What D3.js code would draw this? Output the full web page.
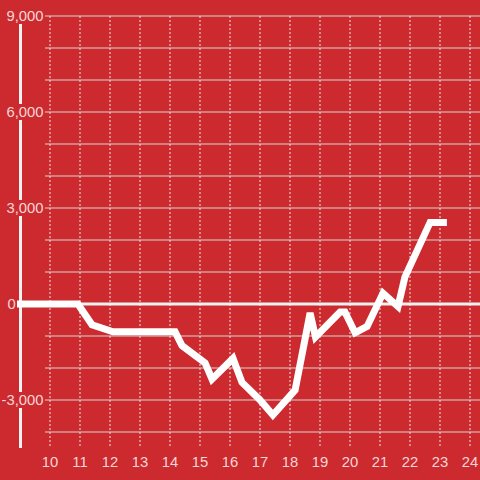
<!DOCTYPE html>
<html>
<head>
<meta charset="utf-8">
<script src="https://cdn.jsdelivr.net/npm/d3@7"></script>
<style>
  body { margin: 0; background: #cc2a2f; }
  svg { display: block; }
  text { font-family: "Liberation Sans", Arial, sans-serif; }
</style>
</head>
<body>
<div id="chart"></div>
<script>
var width = 480,
    height = 480,
    bg = "#cc2a2f";

// series
var xs = [8.9, 10.93, 11.4, 12.1, 14.17, 14.4, 15.17, 15.4, 16.1, 16.4, 17.0, 17.43,
          18.17, 18.67, 18.85, 19.67, 19.83, 20.17, 20.57, 21.1, 21.6, 21.83, 22.67, 23.23];
var ys = [0, 0, -650, -870, -870, -1300, -1840, -2350, -1700, -2450, -3000, -3470,
          -2690, -280, -1030, -250, -250, -900, -700, 340, -80, 840, 2550, 2550];

var xTicks = [10, 11, 12, 13, 14, 15, 16, 17, 18, 19, 20, 21, 22, 23, 24];
var yGrid = d3.range(-4000, 9001, 1000);
var yLabels = [-3000, 0, 3000, 6000, 9000];

var x = d3.scaleLinear().domain([9, 24]).range([20, 470]);
var y = d3.scaleLinear().domain([-4500, 9000]).range([448, 16]);

var svg = d3.select("#chart")
    .append("svg")
    .attr("width", width)
    .attr("height", height);

svg.append("rect")
    .attr("width", width)
    .attr("height", height)
    .attr("fill", bg);

// horizontal grid
svg.selectAll("line.hgrid")
    .data(yGrid)
    .enter()
    .append("line")
    .attr("class", "hgrid")
    .attr("x1", 45)
    .attr("x2", width)
    .attr("y1", function (d) { return y(d); })
    .attr("y2", function (d) { return y(d); })
    .attr("stroke", "#d6d6d6")
    .attr("stroke-width", 1.2);

// vertical dashed grid
svg.selectAll("line.vgrid")
    .data(xTicks)
    .enter()
    .append("line")
    .attr("class", "vgrid")
    .attr("x1", function (d) { return x(d); })
    .attr("x2", function (d) { return x(d); })
    .attr("y1", y(9000))
    .attr("y2", y(-4500))
    .attr("stroke", "#e6e6e6")
    .attr("stroke-width", 1)
    .attr("stroke-dasharray", "2,2");

// zero line
svg.append("line")
    .attr("x1", 45)
    .attr("x2", width)
    .attr("y1", y(0))
    .attr("y2", y(0))
    .attr("stroke", "#f2f2f2")
    .attr("stroke-width", 3);

// y axis line
svg.append("line")
    .attr("x1", 20.5)
    .attr("x2", 20.5)
    .attr("y1", y(9000))
    .attr("y2", y(-4500))
    .attr("stroke", "#f2f2f2")
    .attr("stroke-width", 3);

// y labels with a background patch over the axis line
var yl = svg.selectAll("g.ylab")
    .data(yLabels)
    .enter()
    .append("g")
    .attr("class", "ylab")
    .attr("transform", function (d) { return "translate(0," + y(d) + ")"; });

yl.filter(function (d) { return d !== 0; })
    .append("rect")
    .attr("x", 0)
    .attr("y", -8)
    .attr("width", 44)
    .attr("height", 16)
    .attr("fill", bg);

yl.append("text")
    .attr("x", function (d) { return d === 0 ? 7.5 : 43.5; })
    .attr("dy", "0.36em")
    .attr("text-anchor", function (d) { return d === 0 ? "start" : "end"; })
    .attr("font-size", 14.8)
    .attr("fill", "#f5d6d6")
    .text(function (d) { return d3.format(",")(d).replace("−", "-"); });

// x labels
svg.selectAll("text.xlab")
    .data(xTicks)
    .enter()
    .append("text")
    .attr("class", "xlab")
    .attr("x", function (d) { return x(d); })
    .attr("y", 462)
    .attr("dy", "0.36em")
    .attr("text-anchor", "middle")
    .attr("font-size", 14.8)
    .attr("fill", "#f5d6d6")
    .text(function (d) { return d; });

// data line
var line = d3.line()
    .x(function (d) { return x(d[0]); })
    .y(function (d) { return y(d[1]); });

svg.append("path")
    .datum(d3.zip(xs, ys))
    .attr("d", line)
    .attr("fill", "none")
    .attr("stroke", "#ffffff")
    .attr("stroke-width", 7)
    .attr("stroke-linejoin", "miter");
</script>
</body>
</html>
